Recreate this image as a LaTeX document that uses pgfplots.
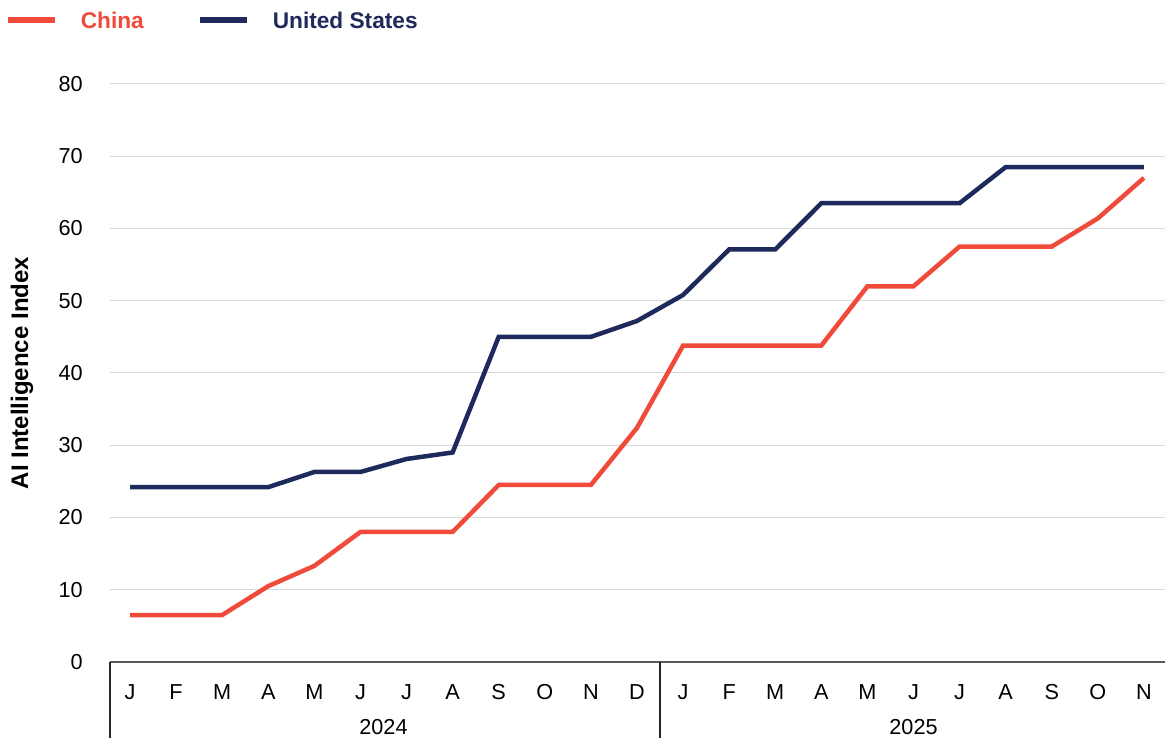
\documentclass[border=0pt]{standalone}
\usepackage{pgfplots}
\pgfplotsset{compat=1.18}
\usepackage{fontspec}
\setmainfont{Liberation Sans}
\newlength\px
\setlength\px{0.6pt}
\definecolor{cnred}{HTML}{F04A3A}
\definecolor{usnavy}{HTML}{1F2A5C}
\newcommand\tickfont{\fontsize{13.0}{15}\selectfont}
\newcommand\labfont{\fontsize{13.6}{16}\selectfont}
\newcommand\ylabfont{\fontsize{14.4}{16}\selectfont}
\begin{document}
\begin{tikzpicture}
\path[use as bounding box] (0,0) rectangle (1165\px,738\px);
\begin{axis}[
  at={(110\px,76\px)}, anchor=south west,
  scale only axis,
  width=1057\px, height=578\px,
  xmin=-0.434, xmax=22.5,
  ymin=0, ymax=80,
  ytick={0,10,...,80},
  xtick={0,...,22},
  xticklabels={J,F,M,A,M,J,J,A,S,O,N,D,J,F,M,A,M,J,J,A,S,O,N},
  axis x line*=bottom,
  axis y line*=left,
  x axis line style={draw=black!65, line width=1.5\px, -},
  y axis line style={draw=none},
  major tick length=0pt,
  tick style={draw=none},
  ymajorgrids,
  grid style={draw=black!15, line width=1\px},
  xticklabel style={anchor=center, yshift=-30\px, font=\tickfont},
  yticklabel style={anchor=east, inner sep=0pt, xshift=-27\px, font=\tickfont},
  /pgf/number format/assume math mode=true,
  ylabel={\textbf{AI Intelligence Index}},
  ylabel style={at={(axis description cs:-0.0832,0.5)}, anchor=center, font=\ylabfont},
  clip=false,
  legend style={at={(axis description cs:-0.0998,1.1107)}, anchor=west, draw=none, fill=none,
    legend columns=2, font=\labfont\bfseries, inner sep=0pt,
    /tikz/every even column/.append style={column sep=53\px},
    nodes={inner sep=0pt, text depth=0pt}},
  legend cell align=left,
  legend image code/.code={\draw[line width=6\px] (0\px,0\px) -- (47\px,0\px);},
]
\addplot[cnred, line width=4.5\px] coordinates {
(0,6.5)(1,6.5)(2,6.5)(3,10.5)(4,13.3)(5,18.0)(6,18.0)(7,18.0)(8,24.5)(9,24.5)(10,24.5)(11,32.4)
(12,43.8)(13,43.8)(14,43.8)(15,43.8)(16,52.0)(17,52.0)(18,57.5)(19,57.5)(20,57.5)(21,61.4)(22,67.0)};
\addlegendentry{\hspace{23\px}\textcolor{cnred}{China}}
\addplot[usnavy, line width=4.5\px] coordinates {
(0,24.2)(1,24.2)(2,24.2)(3,24.2)(4,26.3)(5,26.3)(6,28.1)(7,29.0)(8,45.0)(9,45.0)(10,45.0)(11,47.2)
(12,50.8)(13,57.1)(14,57.1)(15,63.5)(16,63.5)(17,63.5)(18,63.5)(19,68.5)(20,68.5)(21,68.5)(22,68.5)};
\addlegendentry{\hspace{23\px}\textcolor{usnavy}{United States}}
\draw[black!85, line width=1.5\px] (axis cs:-0.434,0) -- ([yshift=-80\px]axis cs:-0.434,0);
\draw[black!85, line width=1.5\px] (axis cs:11.5,0) -- ([yshift=-80\px]axis cs:11.5,0);
\node[font=\tickfont] at ([yshift=-65\px]axis cs:5.5,0) {2024};
\node[font=\tickfont] at ([yshift=-65\px]axis cs:17,0) {2025};
\end{axis}
\end{tikzpicture}
\end{document}
